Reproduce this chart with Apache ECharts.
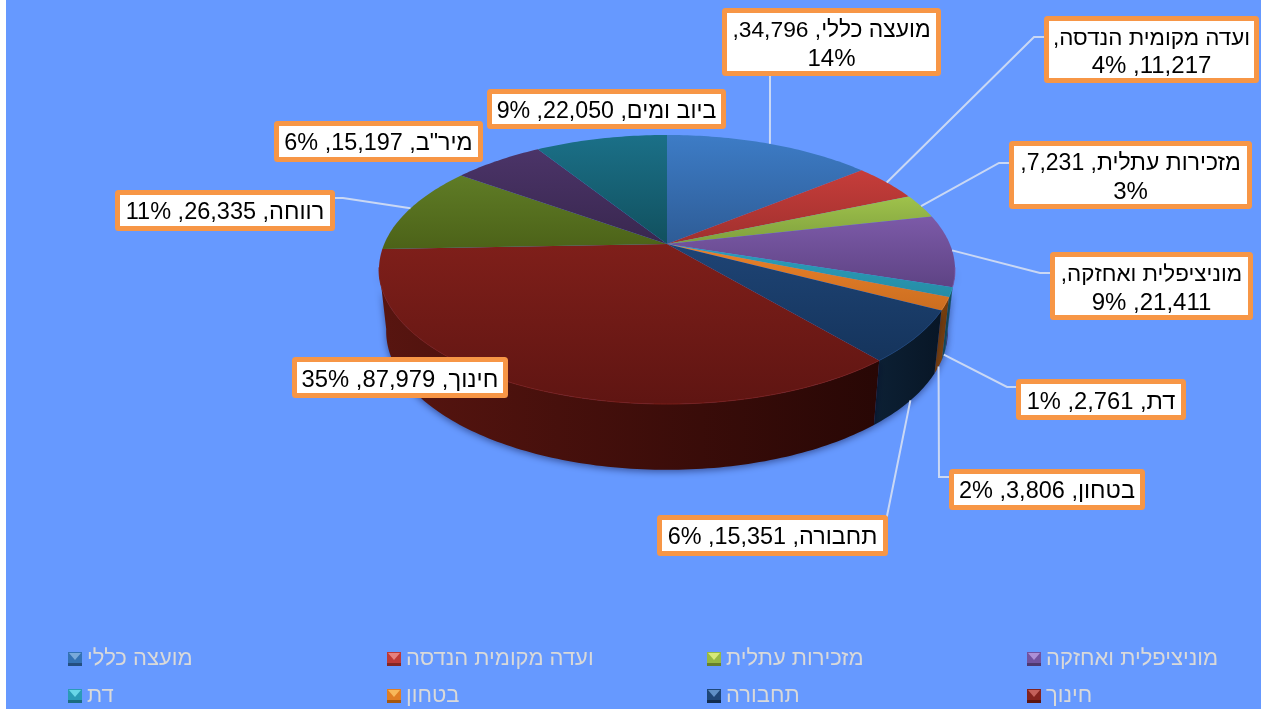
<!DOCTYPE html>
<html dir="rtl">
<head>
<meta charset="utf-8">
<title>ECharts</title>
<script src="https://cdn.jsdelivr.net/npm/echarts@6/dist/echarts.min.js"></script>
<style>
html,body{margin:0;padding:0;background:#fff;}
#main{position:absolute;left:0;top:0;width:1261px;height:709px;}
</style>
</head>
<body>
<div id="main"></div>
<script type="text/javascript">
// data
var names = ['מועצה כללי', 'ועדה מקומית הנדסה', 'מזכירות עתלית', 'מוניציפלית ואחזקה', 'דת', 'בטחון', 'תחבורה', 'חינוך', 'רווחה', 'מיר"ב', 'ביוב ומים'];
var values = [34796, 11217, 7231, 21411, 2761, 3806, 15351, 87979, 26335, 15197, 22050];
var legendNames = names.slice(0, 8);

// slice colours: top of face, bottom of face, rim left, rim right
var faceTop = ['#3D7CC6', '#C63D3A', '#9FC24B', '#7C5AA8', '#2B9FBB', '#E9822A', '#1E4475', '#7F1F1A', '#5F7C26', '#4B3468', '#1B7088'];
var faceBottom = ['#2E5C96', '#A0302E', '#7FA03E', '#5E4384', '#268CA5', '#CC6E20', '#15345C', '#5F1512', '#4C6218', '#39274F', '#11505E'];
var rimLeft = ['#1F3F66', '#6E201E', '#55702A', '#3F2C5A', '#175A6C', '#85480F', '#0C2034', '#581510', '#33420F', '#261A36', '#0B3640'];
var rimRight = ['#1F3F66', '#6E201E', '#55702A', '#3F2C5A', '#145060', '#6E3A0C', '#081626', '#280705', '#33420F', '#261A36', '#0B3640'];
var legendMid = ['#3472B4', '#BE3A38', '#97B944', '#7253A0', '#2A9BB7', '#E07E24', '#1F4778', '#84231E'];
var legendLight = ['#79A9DA', '#E5817F', '#D6E878', '#AC90D6', '#68D6E8', '#F8B85A', '#6090C6', '#C4605A'];
var legendDark = ['#234E80', '#842624', '#66802C', '#4E3870', '#1B6C80', '#A4570F', '#122C4E', '#5A1410'];

// label boxes [left, top, right, bottom], text lines, leader [elbowX, elbowY, endX, endY]
var boxes = [[722, 8, 941, 76], [1044, 16, 1259, 83], [1009, 141, 1252, 209], [1050, 252, 1253, 320], [1016, 379, 1186, 420], [949, 469, 1145, 510], [657, 515, 888, 556], [292, 357, 508, 398], [115, 190, 335, 231], [274, 121, 483, 162], [487, 89, 726, 129]];
var line1 = ['מועצה כללי, 34,796,', 'ועדה מקומית הנדסה,', 'מזכירות עתלית, 7,231,', 'מוניציפלית ואחזקה,', 'דת, 2,761, 1%', 'בטחון, 3,806, 2%', 'תחבורה, 15,351, 6%', 'חינוך, 87,979, 35%', 'רווחה, 26,335, 11%', 'מיר"ב, 15,197, 6%', 'ביוב ומים, 22,050, 9%'];
var line2 = ['14%', '11,217, 4%', '3%', '21,411, 9%', '', '', '', '', '', '', ''];
var leaders = [[770, 100, 770, 76], [1034, 37, 1044, 37], [999, 163, 1009, 163], [1040, 273, 1050, 273], [1007, 387, 1016, 387], [939, 477, 949, 477], [887, 516, 886, 516], null, [343, 198, 335, 198], null, null];
// Hebrew runs narrower in the reference than in Liberation Sans
var lineFontSize = [22.8, 22.4, 23, 22.4, 23.7, 23.5, 23.4, 23.8, 23.5, 23.4, 23.2];

// legend grid
var legendX = [68, 387, 707, 1027];
var legendY = [652, 689];

// pie projection
var CX = 667, CY = 244;
var K = 0.1896, AX = 282.8, AY = 129.7;
var BOTTOM_SX = 0.975, BOTTOM_SY = 1.03, BOTTOM_DY = 61;

var total = values.reduce(function (a, b) { return a + b; }, 0);
var starts = [];
values.reduce(function (acc, v, i) { starts[i] = acc; return acc + v; }, 0);

function toDeg(v) { return v / total * 360; }

function topPoint(deg) {
    var r = deg * Math.PI / 180, u = Math.sin(r), v = Math.cos(r), w = 1 + K * v;
    return [CX + AX * u / w, CY - AY * v / w];
}
function bottomPoint(deg) {
    var r = deg * Math.PI / 180, u = Math.sin(r), v = Math.cos(r), w = 1 + K * v;
    return [CX + BOTTOM_SX * AX * u / w, CY + BOTTOM_DY - BOTTOM_SY * AY * v / w];
}
function arc(fn, a0, a1) {
    var pts = [], n = Math.max(2, Math.ceil(Math.abs(a1 - a0)));
    for (var i = 0; i <= n; i++) pts.push(fn(a0 + (a1 - a0) * i / n));
    return pts;
}
function grad(x2, y2, c1, c2) {
    return new echarts.graphic.LinearGradient(0, 0, x2, y2, [{ offset: 0, color: c1 }, { offset: 1, color: c2 }]);
}

function renderRim(params, api) {
    var i = params.dataIndex;
    var a0 = Math.max(toDeg(starts[i]), 100), a1 = Math.min(toDeg(starts[i] + api.value(0)), 260);
    if (a1 <= a0) return { type: 'group', children: [] };
    var pts = arc(topPoint, a0, a1).concat(arc(bottomPoint, a1, a0));
    return {
        type: 'polygon',
        shape: { points: pts },
        style: { fill: grad(1, 0, rimLeft[i], rimRight[i]), shadowBlur: 7, shadowColor: 'rgba(0,0,40,0.45)', shadowOffsetY: 2 }
    };
}

function renderFace(params, api) {
    var i = params.dataIndex;
    var a0 = toDeg(starts[i]), a1 = toDeg(starts[i] + api.value(0));
    var children = [{
        type: 'polygon',
        shape: { points: [[CX, CY]].concat(arc(topPoint, a0, a1)) },
        style: { fill: grad(0, 1, faceTop[i], faceBottom[i]) }
    }];
    // lighter bevel along the front edge
    var e0 = Math.max(a0, 100), e1 = Math.min(a1, 260);
    if (e1 > e0) {
        children.push({
            type: 'polyline',
            shape: { points: arc(topPoint, e0, e1) },
            style: { fill: null, stroke: faceTop[i], lineWidth: 1, opacity: 0.8 }
        });
    }
    return { type: 'group', children: children };
}

function leaderAnchor(i) {
    var mid = toDeg(starts[i] + values[i] / 2);
    // front slices hook onto the lower edge of the rim
    return (mid > 105 && mid < 135) ? bottomPoint(mid) : topPoint(mid);
}

function renderLeader(params, api) {
    var i = params.dataIndex;
    if (!leaders[i]) return { type: 'group', children: [] };
    var p = leaderAnchor(i), l = leaders[i];
    return {
        type: 'polyline',
        shape: { points: [p, [l[0], l[1]], [l[2], l[3]]] },
        style: { fill: null, stroke: '#CAD8F4', lineWidth: 2 }
    };
}

function renderLabel(params, api) {
    var i = params.dataIndex, b = boxes[i];
    var two = !!line2[i];
    var mx = (b[0] + b[2]) / 2, my = (b[1] + b[3]) / 2;
    var family = '"Liberation Sans", Arial, sans-serif';
    var children = [{
        type: 'rect',
        shape: { x: b[0] + 2.5, y: b[1] + 2.5, width: b[2] - b[0] - 5, height: b[3] - b[1] - 5, r: 1 },
        style: { fill: '#fff', stroke: '#F79646', lineWidth: 5 }
    }];
    [line1[i], line2[i]].forEach(function (t, n) {
        if (!t) return;
        children.push({
            type: 'text',
            style: {
                x: mx,
                y: two ? my + (n === 0 ? -11 : 17) : my + 2.5,
                text: t,
                align: 'center',
                verticalAlign: 'middle',
                fill: '#000',
                font: (n === 0 ? lineFontSize[i] : 24) + 'px ' + family
            }
        });
    });
    return { type: 'group', children: children };
}

function renderLegend(params, api) {
    var i = params.dataIndex;
    var x = legendX[i % 4], y = legendY[Math.floor(i / 4)], s = 14;
    return {
        type: 'group',
        children: [
            { type: 'rect', shape: { x: x, y: y, width: s, height: s }, style: { fill: legendMid[i] } },
            { type: 'polygon', shape: { points: [[x + 1, y + 1], [x + s - 1, y + 1], [x + s / 2, y + s / 2 + 1]] }, style: { fill: legendLight[i] } },
            { type: 'rect', shape: { x: x, y: y + s - 3, width: s, height: 3 }, style: { fill: legendDark[i] } },
            {
                type: 'text',
                style: {
                    x: x + s + 5,
                    y: y + s / 2,
                    text: legendNames[i],
                    align: 'left',
                    verticalAlign: 'middle',
                    fill: '#D9D9D9',
                    font: '22px "Liberation Sans", Arial, sans-serif'
                }
            }
        ]
    };
}

function customSeries(data, z, fn) {
    return { type: 'custom', coordinateSystem: 'none', silent: true, z: z, animation: false, clip: false, data: data, renderItem: fn };
}

var myChart = echarts.init(document.getElementById('main'), null, { renderer: 'canvas' });
myChart.setOption({
    animation: false,
    backgroundColor: '#6699FF',
    graphic: [{ type: 'rect', left: 0, top: 0, shape: { width: 6, height: 709 }, style: { fill: '#fff' } }],
    series: [
        customSeries(values, 2, renderRim),
        customSeries(values, 3, renderFace),
        customSeries(values, 4, renderLeader),
        customSeries(values, 5, renderLabel),
        customSeries(legendNames, 6, renderLegend)
    ]
});
</script>
</body>
</html>
